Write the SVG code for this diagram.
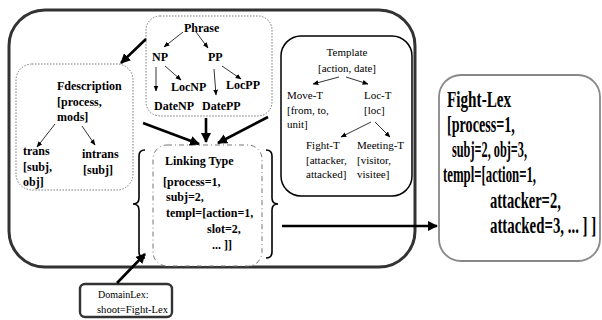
<svg xmlns="http://www.w3.org/2000/svg" width="602" height="320" viewBox="0 0 602 320">
<style>
.b{font-family:"Liberation Serif",serif;font-weight:bold;font-size:12px;fill:#000}
.r{font-family:"Liberation Serif",serif;font-size:11px;fill:#000}
.big{font-family:"Liberation Serif",serif;font-weight:bold;font-size:23px;fill:#000}
.sm{font-family:"Liberation Serif",serif;font-size:10px;fill:#000}
.thin{stroke:#000;stroke-width:0.8;fill:none}
.thick{stroke:#000;stroke-width:2.6;fill:none}
</style>
<defs>
<marker id="a" viewBox="0 0 10 10" refX="9" refY="5" markerWidth="6" markerHeight="6" orient="auto" markerUnits="userSpaceOnUse"><path d="M0,1 L10,5 L0,9 z" fill="#000"/></marker>
<marker id="A" viewBox="0 0 10 10" refX="9" refY="5" markerWidth="10" markerHeight="10" orient="auto" markerUnits="userSpaceOnUse"><path d="M0,0 L10,5 L0,10 z" fill="#000"/></marker>
</defs>
<rect width="602" height="320" fill="#fff"/>
<g id="outer"><rect x="9" y="10" width="406" height="257" rx="36" ry="36" fill="none" stroke="#333" stroke-width="3"/></g>
<g id="phrase">
<rect x="146" y="16" width="126" height="100" rx="14" fill="#fff" stroke="#777" stroke-width="1" stroke-dasharray="1.5,1.5"/>
<text class="b" x="184" y="32">Phrase</text>
<text class="b" x="152" y="61">NP</text>
<text class="b" x="208" y="61">PP</text>
<text class="b" x="171" y="91">LocNP</text>
<text class="b" x="226" y="89">LocPP</text>
<text class="b" x="154" y="110">DateNP</text>
<text class="b" x="202" y="110">DatePP</text>
</g>
<g id="fdescription">
<rect x="16" y="64" width="117" height="126" rx="16" fill="#fff" stroke="#777" stroke-width="1" stroke-dasharray="1.5,1.5"/>
<text class="b" x="57" y="90">Fdescription</text>
<text class="b" x="57" y="106">[process,</text>
<text class="b" x="57" y="121">mods]</text>
<text class="b" x="23" y="155">trans</text>
<text class="b" x="23" y="171">[subj,</text>
<text class="b" x="23" y="186">obj]</text>
<text class="b" x="82" y="158">intrans</text>
<text class="b" x="83" y="174">[subj]</text>
</g>
<g id="template">
<rect x="281" y="36" width="131" height="160" rx="20" fill="#fff" stroke="#000" stroke-width="1.5"/>
<text class="r" x="347" y="56" text-anchor="middle">Template</text>
<text class="r" x="347" y="72" text-anchor="middle">[action, date]</text>
<text class="r" x="287" y="99">Move-T</text>
<text class="r" x="287" y="114">[from, to,</text>
<text class="r" x="287" y="128">unit]</text>
<text class="r" x="364" y="99">Loc-T</text>
<text class="r" x="364" y="114">[loc]</text>
<text class="r" x="306" y="149">Fight-T</text>
<text class="r" x="306" y="164">[attacker,</text>
<text class="r" x="306" y="178">attacked]</text>
<text class="r" x="357" y="149">Meeting-T</text>
<text class="r" x="357" y="164">[visitor,</text>
<text class="r" x="357" y="178">visitee]</text>
</g>
<g id="linking">
<rect x="153" y="145" width="109" height="121" rx="14" fill="#fff" stroke="#777" stroke-width="1" stroke-dasharray="5,3,1,3"/>
<path d="M145,150 q-6,0 -6,6 v42 q0,6 -6,6 q6,0 6,6 v42 q0,6 6,6" fill="none" stroke="#000" stroke-width="1.6"/>
<path d="M266,150 q6,0 6,6 v42 q0,6 6,6 q-6,0 -6,6 v42 q0,6 -6,6" fill="none" stroke="#000" stroke-width="1.6"/>
<text class="b" x="165" y="165">Linking Type</text>
<text class="b" x="163" y="186">[process=1,</text>
<text class="b" x="166" y="201">subj=2,</text>
<text class="b" x="166" y="217">templ=[action=1,</text>
<text class="b" x="207" y="233">slot=2,</text>
<text class="b" x="212" y="249">... ]]</text>
</g>
<g id="fightlex">
<rect x="439" y="75" width="161" height="186" rx="22" fill="#fff" stroke="#888" stroke-width="1.8"/>
<text class="big" transform="translate(447,107) scale(0.6,1)" textLength="107" lengthAdjust="spacingAndGlyphs">Fight-Lex</text>
<text class="big" transform="translate(447,132) scale(0.6,1)" textLength="113" lengthAdjust="spacingAndGlyphs">[process=1,</text>
<text class="big" transform="translate(452,157) scale(0.6,1)" textLength="125" lengthAdjust="spacingAndGlyphs">subj=2, obj=3,</text>
<text class="big" transform="translate(443,182) scale(0.6,1)" textLength="155" lengthAdjust="spacingAndGlyphs">templ=[action=1,</text>
<text class="big" transform="translate(490,208) scale(0.6,1)" textLength="118" lengthAdjust="spacingAndGlyphs">attacker=2,</text>
<text class="big" transform="translate(490,233) scale(0.6,1)" textLength="177" lengthAdjust="spacingAndGlyphs">attacked=3, ... ] ]</text>
</g>
<g id="domainlex">
<rect x="80" y="284" width="92" height="33" rx="5" fill="#fff" stroke="#333" stroke-width="2.4"/>
<text class="sm" x="98" y="298">DomainLex:</text>
<text class="sm" x="97" y="313" textLength="71" lengthAdjust="spacingAndGlyphs">shoot=Fight-Lex</text>
</g>
<g id="connectors">
<line class="thin" x1="183" y1="32" x2="164" y2="47" marker-end="url(#a)"/>
<line class="thin" x1="196" y1="32" x2="208" y2="48" marker-end="url(#a)"/>
<line class="thin" x1="156" y1="67" x2="156" y2="91" marker-end="url(#a)"/>
<line class="thin" x1="165" y1="66" x2="181" y2="80" marker-end="url(#a)"/>
<line class="thin" x1="214" y1="69" x2="216" y2="95" marker-end="url(#a)"/>
<line class="thin" x1="222" y1="66" x2="241" y2="79" marker-end="url(#a)"/>
<line class="thin" x1="55" y1="124" x2="37" y2="147" marker-end="url(#a)"/>
<line class="thin" x1="82" y1="126" x2="95" y2="145" marker-end="url(#a)"/>
<line class="thin" x1="339" y1="77" x2="313" y2="84" marker-end="url(#a)"/>
<line class="thin" x1="346" y1="77" x2="368" y2="84" marker-end="url(#a)"/>
<line class="thin" x1="371" y1="122" x2="341" y2="137" marker-end="url(#a)"/>
<line class="thin" x1="375" y1="122" x2="390" y2="137" marker-end="url(#a)"/>
<line class="thick" x1="146" y1="39" x2="121" y2="63" marker-end="url(#A)"/>
<line class="thick" x1="143" y1="123" x2="199" y2="144" marker-end="url(#A)"/>
<line class="thick" x1="206" y1="118" x2="206" y2="142" marker-end="url(#A)"/>
<line class="thick" x1="268" y1="117" x2="218" y2="143" marker-end="url(#A)"/>
<line class="thick" x1="282" y1="226" x2="437" y2="226" marker-end="url(#A)"/>
<line class="thick" x1="117" y1="283" x2="145" y2="254" marker-end="url(#A)"/>
</g>
</svg>
